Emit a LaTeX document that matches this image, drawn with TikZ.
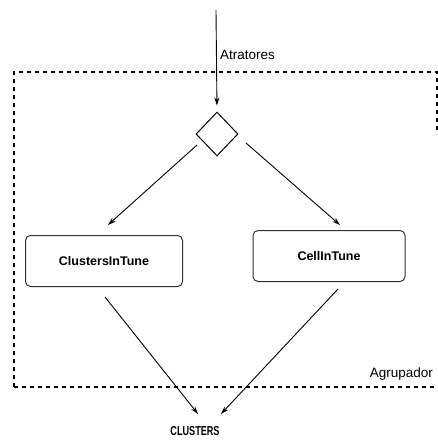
\documentclass[tikz,border=0pt]{standalone}
\usepackage{fontspec}
\setmainfont{Liberation Sans}
\newfontfamily\narrowbold[FakeStretch=0.7]{Liberation Sans Bold}
\usetikzlibrary{shapes.geometric,arrows.meta}
\begin{document}
\begin{tikzpicture}[x=1pt,y=1pt,
  flow/.style={line width=0.9pt,-{Stealth[length=8pt,width=5pt]}},
  frame/.style={line width=1.1pt,dash pattern=on 4pt off 4pt},
  procbox/.style={draw=black!80,line width=1pt,rounded corners=5pt,
    minimum width=157pt,minimum height=51pt,inner sep=0pt,
    font=\bfseries\fontsize{12.5}{14}\selectfont},
  gate/.style={draw,diamond,line width=1pt,minimum width=42pt,minimum height=44pt,inner sep=0pt},
  lbl/.style={inner sep=0pt,font=\fontsize{13.5}{15}\selectfont}]
\useasboundingbox (0,0) rectangle (438,-440);

% dashed frame of the grouping component
\draw[frame] (14,-387) -- (14,-72) -- (437,-72) -- (437,-134);
\draw[frame] (14,-387) -- (437,-387);
\node[lbl,anchor=east] (agr) at (433,-374) {Agrupador};

% input
\coordinate (src) at (216,-10);
\node[gate] (dia) at (217,-134) {};
\draw[flow,shorten >=6pt] (src) -- (dia.north);
\node[lbl,anchor=west] (atr) at (220,-55) {Atratores};

% processing boxes
\node[procbox] (cit) at (104,-261) {ClustersInTune\hspace{8pt}};
\node[procbox,minimum width=152pt] (cel) at (329,-256) {CellInTune\hspace{8pt}};

% output
\node[inner sep=0pt,font=\narrowbold\fontsize{13}{15}\selectfont] (out) at (195,-431) {CLUSTERS};

% connector ends
\coordinate (d1) at (197,-145);
\coordinate (d2) at (246,-143);
\coordinate (c1) at (108,-225);
\coordinate (c2) at (340,-225);
\coordinate (b1) at (105,-297);
\coordinate (b2) at (338,-289);
\coordinate (o1) at (198,-414);
\coordinate (o2) at (221,-414);

\draw[flow] (d1) -- (c1);
\draw[flow] (d2) -- (c2);
\draw[flow] (b1) -- (o1);
\draw[flow] (b2) -- (o2);
\end{tikzpicture}
\end{document}
